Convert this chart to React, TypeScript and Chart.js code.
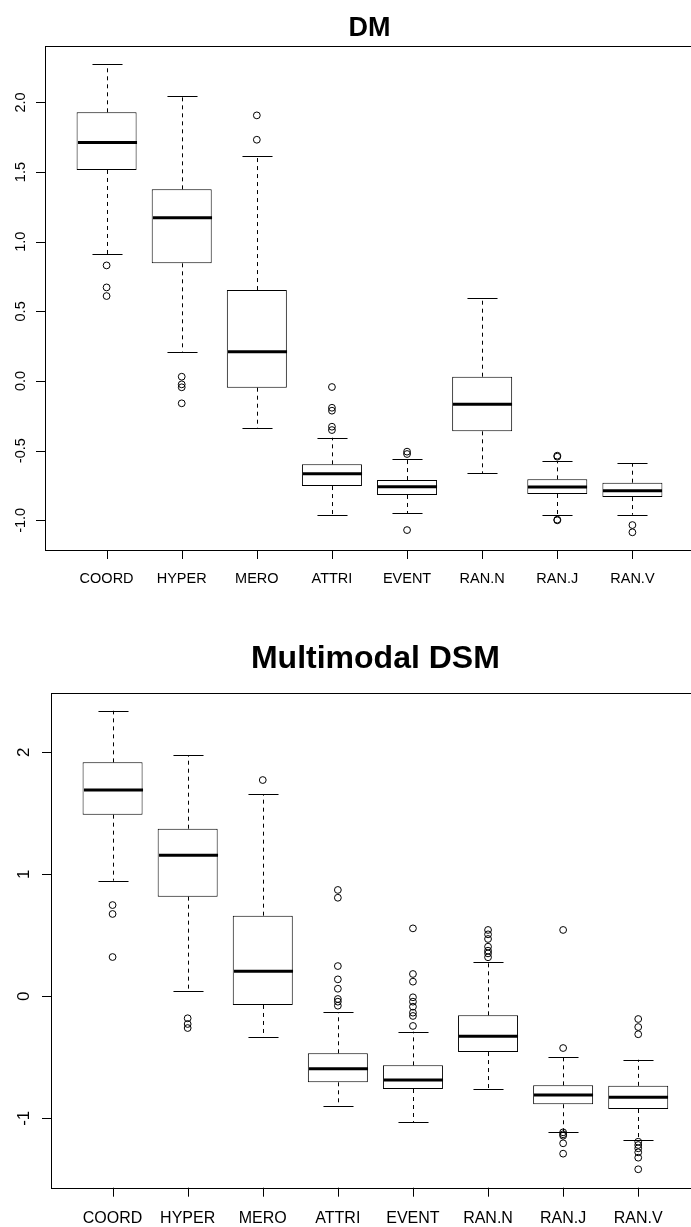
import React, { useEffect, useRef } from "react";
import { Chart, registerables } from "chart.js";

Chart.register(...registerables);

const categories = ["COORD", "HYPER", "MERO", "ATTRI", "EVENT", "RAN.N", "RAN.J", "RAN.V"];

// ---- DM ----
const dmLowerWhisker = [0.912, 0.21, -0.337, -0.962, -0.95, -0.66, -0.96, -0.96];
const dmQ1 = [1.515, 0.845, -0.048, -0.754, -0.818, -0.361, -0.811, -0.833];
const dmMedian = [1.713, 1.172, 0.21, -0.665, -0.759, -0.167, -0.761, -0.788];
const dmQ3 = [1.929, 1.376, 0.653, -0.598, -0.711, 0.031, -0.706, -0.73];
const dmUpperWhisker = [2.273, 2.044, 1.613, -0.407, -0.56, 0.598, -0.577, -0.591];
const dmOutliers = [
  [0.83, 0.672, 0.61],
  [0.031, -0.024, -0.045, -0.16],
  [1.907, 1.732],
  [-0.043, -0.192, -0.213, -0.328, -0.352],
  [-0.507, -0.524, -1.07],
  [],
  [-0.536, -0.543, -0.995, -1.0],
  [-1.034, -1.086],
];
const dmYTicks = [-1.0, -0.5, 0, 0.5, 1.0, 1.5, 2.0];
const dmYTickLabels = ["-1.0", "-0.5", "0.0", "0.5", "1.0", "1.5", "2.0"];

// ---- Multimodal DSM ----
const mmLowerWhisker = [0.948, 0.043, -0.336, -0.899, -1.03, -0.762, -1.11, -1.175];
const mmQ1 = [1.489, 0.817, -0.071, -0.705, -0.76, -0.457, -0.885, -0.924];
const mmMedian = [1.691, 1.156, 0.205, -0.593, -0.686, -0.328, -0.809, -0.828];
const mmQ3 = [1.918, 1.374, 0.661, -0.467, -0.566, -0.156, -0.73, -0.734];
const mmUpperWhisker = [2.341, 1.978, 1.656, -0.129, -0.29, 0.284, -0.5, -0.52];
const mmOutliers = [
  [0.748, 0.675, 0.322],
  [-0.18, -0.227, -0.26],
  [1.773],
  [0.872, 0.808, 0.248, 0.139, 0.062, -0.022, -0.044, -0.077],
  [0.557, 0.183, 0.12, -0.008, -0.044, -0.085, -0.134, -0.161, -0.243],
  [0.544, 0.508, 0.47, 0.407, 0.374, 0.352, 0.32],
  [0.544, -0.424, -1.115, -1.131, -1.143, -1.205, -1.29],
  [-0.186, -0.252, -0.311, -1.192, -1.219, -1.246, -1.279, -1.323, -1.418],
];
const mmYTicks = [-1, 0, 1, 2];
const mmYTickLabels = ["-1", "0", "1", "2"];

const FONT = '"Liberation Sans", Arial, Helvetica, sans-serif';

type BoxProps = {
  title: string;
  lower: number[];
  q1: number[];
  median: number[];
  q3: number[];
  upper: number[];
  outliers: number[][];
  yTicks: number[];
  yTickLabels: string[];
  yMin: number;
  yMax: number;
  width: number;
  height: number;
  top: number;
  padding: { left: number; top: number; right: number; bottom: number };
  titleFont: number;
  titleBaseline: number;
  xFont: number;
  xLabelOffset: number;
  yFont: number;
  yLabelOffset: number;
};

function BoxChart(p: BoxProps) {
  const ref = useRef<HTMLCanvasElement | null>(null);

  useEffect(() => {
    if (!ref.current) return;
    const xMin = 0.18;
    const xMax = 8.82;
    const plotWidth = p.width - p.padding.left - p.padding.right;
    const unitPx = plotWidth / (xMax - xMin);

    const rPlugin = {
      id: "rbox",
      afterDatasetsDraw(chart: any) {
        const ctx = chart.ctx;
        const xs = chart.scales.x;
        const ys = chart.scales.y;
        const area = chart.chartArea;
        ctx.save();
        ctx.strokeStyle = "#000";
        ctx.fillStyle = "#000";
        const unit = xs.getPixelForValue(2) - xs.getPixelForValue(1);
        categories.forEach((_, i) => {
          const x = Math.round(xs.getPixelForValue(i + 1)) + 0.5;
          const yUp = ys.getPixelForValue(p.upper[i]);
          const yQ3 = ys.getPixelForValue(p.q3[i]);
          const yQ1 = ys.getPixelForValue(p.q1[i]);
          const yLo = ys.getPixelForValue(p.lower[i]);
          const yMed = ys.getPixelForValue(p.median[i]);
          // whiskers
          ctx.lineWidth = 1;
          ctx.setLineDash([4, 4]);
          ctx.beginPath();
          ctx.moveTo(x, yQ3);
          ctx.lineTo(x, yUp);
          ctx.moveTo(x, yQ1);
          ctx.lineTo(x, yLo);
          ctx.stroke();
          ctx.setLineDash([]);
          // caps
          const cap = unit * 0.2;
          ctx.beginPath();
          ctx.moveTo(x - cap, Math.round(yUp) + 0.5);
          ctx.lineTo(x + cap, Math.round(yUp) + 0.5);
          ctx.moveTo(x - cap, Math.round(yLo) + 0.5);
          ctx.lineTo(x + cap, Math.round(yLo) + 0.5);
          ctx.stroke();
          // median
          const half = unit * 0.4;
          ctx.lineWidth = 3;
          ctx.beginPath();
          ctx.moveTo(x - half + 0.5, yMed);
          ctx.lineTo(x + half - 0.5, yMed);
          ctx.stroke();
        });
        // frame
        ctx.lineWidth = 1;
        ctx.strokeRect(
          Math.round(area.left) + 0.5,
          Math.round(area.top) + 0.5,
          Math.round(area.right - area.left),
          Math.round(area.bottom - area.top)
        );
        // y axis ticks + rotated labels
        ctx.font = `${p.yFont}px ${FONT}`;
        p.yTicks.forEach((v, k) => {
          const yy = Math.round(ys.getPixelForValue(v)) + 0.5;
          ctx.beginPath();
          ctx.moveTo(area.left - 9, yy);
          ctx.lineTo(area.left, yy);
          ctx.stroke();
          ctx.save();
          ctx.translate(area.left - p.yLabelOffset, ys.getPixelForValue(v));
          ctx.rotate(-Math.PI / 2);
          ctx.textAlign = "center";
          ctx.textBaseline = "alphabetic";
          ctx.fillText(p.yTickLabels[k], 0, 0);
          ctx.restore();
        });
        // x axis ticks + labels
        ctx.font = `${p.xFont}px ${FONT}`;
        ctx.textAlign = "center";
        ctx.textBaseline = "alphabetic";
        categories.forEach((c, i) => {
          const xx = Math.round(xs.getPixelForValue(i + 1)) + 0.5;
          ctx.beginPath();
          ctx.moveTo(xx, area.bottom);
          ctx.lineTo(xx, area.bottom + 9);
          ctx.stroke();
          ctx.fillText(c, xs.getPixelForValue(i + 1), area.bottom + p.xLabelOffset);
        });
        // title
        ctx.font = `bold ${p.titleFont}px ${FONT}`;
        ctx.fillText(p.title, (area.left + area.right) / 2, p.titleBaseline);
        ctx.restore();
      },
    };

    const chart = new Chart(ref.current, {
      type: "bar",
      data: {
        datasets: [
          {
            type: "bar",
            data: categories.map((_, i) => ({ x: i + 1, y: [p.q1[i], p.q3[i]] })) as any,
            backgroundColor: "#ffffff",
            borderColor: "#000000",
            borderWidth: 1,
            borderSkipped: false,
            barThickness: Math.round(unitPx * 0.8),
            inflateAmount: 0,
          } as any,
          {
            type: "scatter",
            data: p.outliers.flatMap((arr, i) => arr.map((v) => ({ x: i + 1, y: v }))),
            pointStyle: "circle",
            pointRadius: 3.4,
            pointHoverRadius: 3.4,
            borderColor: "#000000",
            backgroundColor: "rgba(0,0,0,0)",
            borderWidth: 1,
          } as any,
        ],
      },
      options: {
        responsive: false,
        animation: false,
        events: [],
        layout: { padding: p.padding },
        scales: {
          x: { type: "linear", min: xMin, max: xMax, display: false, offset: false },
          y: { type: "linear", min: p.yMin, max: p.yMax, display: false },
        },
        plugins: {
          legend: { display: false },
          tooltip: { enabled: false },
          title: { display: false },
        },
      },
      plugins: [rPlugin],
    });
    return () => chart.destroy();
  }, []);

  return (
    <canvas
      ref={ref}
      width={p.width}
      height={p.height}
      style={{ position: "absolute", left: 0, top: p.top, width: p.width, height: p.height }}
    />
  );
}

export default function App() {
  return (
    <div
      style={{
        position: "absolute",
        left: 0,
        top: 0,
        width: 691,
        height: 1227,
        overflow: "hidden",
        background: "#fff",
      }}
    >
      <BoxChart
        title="DM"
        lower={dmLowerWhisker}
        q1={dmQ1}
        median={dmMedian}
        q3={dmQ3}
        upper={dmUpperWhisker}
        outliers={dmOutliers}
        yTicks={dmYTicks}
        yTickLabels={dmYTickLabels}
        yMin={-1.213}
        yMax={2.405}
        width={700}
        height={600}
        top={0}
        padding={{ left: 45, top: 46, right: 6, bottom: 50 }}
        titleFont={27}
        titleBaseline={36.3}
        xFont={14.5}
        xLabelOffset={32.7}
        yFont={14.5}
        yLabelOffset={20}
      />
      <BoxChart
        title="Multimodal DSM"
        lower={mmLowerWhisker}
        q1={mmQ1}
        median={mmMedian}
        q3={mmQ3}
        upper={mmUpperWhisker}
        outliers={mmOutliers}
        yTicks={mmYTicks}
        yTickLabels={mmYTickLabels}
        yMin={-1.569}
        yMax={2.489}
        width={705}
        height={627}
        top={600}
        padding={{ left: 51, top: 92.7, right: 5.2, bottom: 39.3 }}
        titleFont={32}
        titleBaseline={68}
        xFont={16}
        xLabelOffset={35.6}
        yFont={17}
        yLabelOffset={21.7}
      />
    </div>
  );
}
